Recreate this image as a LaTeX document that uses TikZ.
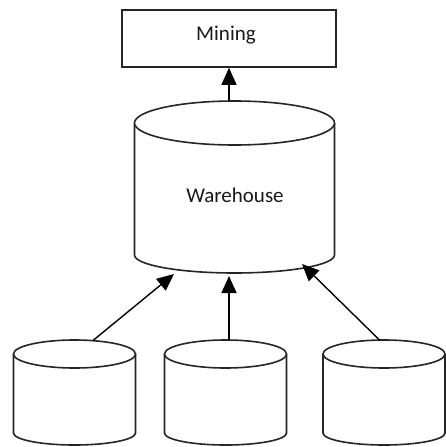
\documentclass[tikz,border=0pt]{standalone}
\usepackage{fontspec}
\setmainfont{Carlito}
\usetikzlibrary{arrows.meta}

\begin{document}
\begin{tikzpicture}[x=1pt, y=-1pt,
  outline/.style={draw=black!85, line width=1.6pt, fill=white},
  flow/.style={draw=black, line width=1.4pt, arrows={-Triangle[length=17pt,width=15pt]}},
  lbl/.style={font=\fontsize{21}{24}\selectfont, text=black!90, inner sep=0pt}
]
\useasboundingbox (0,0) rectangle (445,447);

% Mining box
\node[outline, rectangle, minimum width=214pt, minimum height=57pt, inner sep=0pt] (mining) at (229,38.5) {};
\node[lbl] (miningtxt) at (226,35) {Mining};

% Warehouse drum: side walls with lower rim, then the upper rim ellipse
\draw[outline] (134.5,123) -- (134.5,255)
  arc[start angle=180, end angle=0, x radius=100, y radius=18] -- (334.5,123);
\draw[outline] (234.5,123) ellipse[x radius=100, y radius=22];
\node[lbl] (warehouse) at (235,195) {Warehouse};

% Source drums
\foreach \n/\cx in {srcA/74.5, srcB/225.5, srcC/384} {
  \draw[outline] (\cx-61,354) -- (\cx-61,433)
    arc[start angle=180, end angle=0, x radius=61, y radius=12] -- (\cx+61,354);
  \draw[outline] (\cx,354) ellipse[x radius=61, y radius=14];
  \coordinate (\n) at (\cx,354);
}

% Connector ends
\coordinate (whtop) at (229,101);
\coordinate (srcAout) at (93,340.5);
\coordinate (srcBout) at (229,340);
\coordinate (srcCout) at (380,340.5);
\coordinate (whinA) at (174,274);
\coordinate (whinB) at (229,276);
\coordinate (whinC) at (302,264);

\draw[flow] (whtop) -- (mining.south -| whtop);
\draw[flow] (srcAout) -- (whinA);
\draw[flow] (srcBout) -- (whinB);
\draw[flow] (srcCout) -- (whinC);
\end{tikzpicture}
\end{document}
